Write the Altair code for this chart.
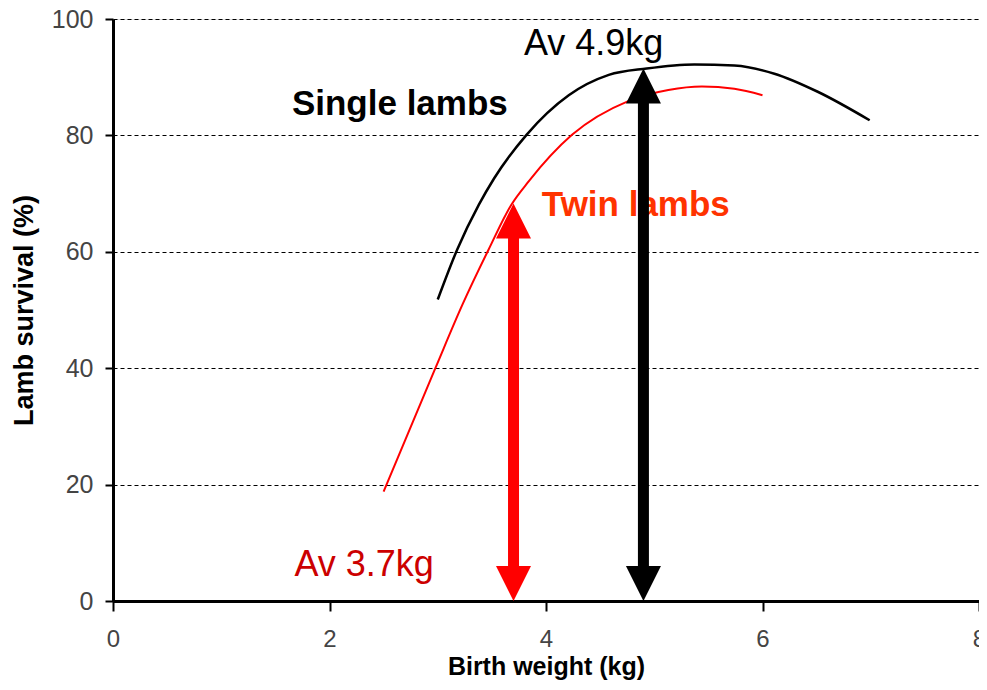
import altair as alt
import pandas as pd

# Single lambs curve (black)
single_kg = [3.0, 3.18, 3.38, 3.52, 3.82, 4.21, 4.58, 4.93, 5.37, 5.74, 6.11, 6.51, 6.99]
single_v = [51.8, 60.4, 68.1, 72.6, 80.1, 86.9, 90.4, 91.5, 92.2, 92.0, 90.6, 87.5, 82.6]

# Twin lambs curve (red)
twin_kg = [2.5, 2.98, 3.23, 3.47, 3.68, 3.84, 4.24, 4.76, 5.13, 5.44, 5.74, 6.0]
twin_v = [18.8, 40.1, 51.0, 60.4, 68.1, 72.1, 80.1, 85.9, 87.8, 88.4, 88.0, 86.9]

# Average birth weight arrows
arrow_kg = [3.7, 4.9]
arrow_top = [68.3, 91.5]
arrow_bottom = [0, 0]
arrow_color = ["#ff0000", "#000000"]

# Annotations
ann_text = ["Av 4.9kg", "Av 3.7kg"]
ann_kg = [4.44, 2.32]
ann_v = [95.7, 6.2]
ann_color = ["#000000", "#cc0000"]

lbl_text = ["Single lambs", "Twin lambs"]
lbl_kg = [2.65, 4.83]
lbl_v = [85.4, 68.0]
lbl_color = ["#000000", "#ff3300"]

single = pd.DataFrame({"kg": single_kg, "v": single_v})
twin = pd.DataFrame({"kg": twin_kg, "v": twin_v})
arrows = pd.DataFrame({"kg": arrow_kg, "top": arrow_top, "bottom": arrow_bottom, "color": arrow_color})
ann = pd.DataFrame({"text": ann_text, "kg": ann_kg, "v": ann_v, "color": ann_color})
lbl = pd.DataFrame({"text": lbl_text, "kg": lbl_kg, "v": lbl_v, "color": lbl_color})

FONT = "Liberation Sans"

xs = alt.Scale(domain=[0, 8], nice=False)
ys = alt.Scale(domain=[0, 100], nice=False)

x_axis = alt.Axis(
    values=[0, 2, 4, 6, 8], format="d", grid=False, title="Birth weight (kg)",
    titleFont=FONT, titleFontSize=25, titleFontWeight="bold", titleColor="#000",
    titlePadding=3,
    labelFont=FONT, labelFontSize=24, labelColor="#444", labelPadding=16,
    domainColor="#000", domainWidth=3, tickColor="#000", tickWidth=2, tickSize=10,
    labelFlush=False,
)
y_axis = alt.Axis(
    values=[0, 20, 40, 60, 80, 100], format="d", grid=True, gridColor="#000", gridDash=[4, 3],
    gridWidth=1, title="Lamb survival (%)",
    titleFont=FONT, titleFontSize=27, titleFontWeight="bold", titleColor="#000",
    titlePadding=13,
    labelFont=FONT, labelFontSize=25, labelColor="#444", labelPadding=12,
    domainColor="#000", domainWidth=3, tickColor="#000", tickWidth=2, tickSize=8,
)

base_single = alt.Chart(single).mark_line(color="#000000", strokeWidth=2.5, interpolate="monotone").encode(
    x=alt.X("kg:Q", scale=xs, axis=x_axis),
    y=alt.Y("v:Q", scale=ys, axis=y_axis),
)
line_twin = alt.Chart(twin).mark_line(color="#ff0000", strokeWidth=2, interpolate="monotone").encode(
    x=alt.X("kg:Q", scale=xs),
    y=alt.Y("v:Q", scale=ys),
)

ann_layer = alt.Chart(ann).mark_text(font=FONT, fontSize=36, baseline="middle", align="center").encode(
    x=alt.X("kg:Q", scale=xs), y=alt.Y("v:Q", scale=ys), text="text:N",
    color=alt.Color("color:N", scale=None),
)
lbl_layer = alt.Chart(lbl).mark_text(font=FONT, fontSize=35, fontWeight="bold", baseline="middle", align="center").encode(
    x=alt.X("kg:Q", scale=xs), y=alt.Y("v:Q", scale=ys), text="text:N",
    color=alt.Color("color:N", scale=None),
)

shaft = alt.Chart(arrows).mark_rule(strokeWidth=11, yOffset=30, y2Offset=-30).encode(
    x=alt.X("kg:Q", scale=xs), y=alt.Y("top:Q", scale=ys), y2="bottom:Q",
    color=alt.Color("color:N", scale=None),
)
head_up = alt.Chart(arrows).mark_point(shape="M0,0L-1,2L1,2Z", size=1225, filled=True, opacity=1, strokeWidth=0).encode(
    x=alt.X("kg:Q", scale=xs), y=alt.Y("top:Q", scale=ys),
    color=alt.Color("color:N", scale=None),
)
head_down = alt.Chart(arrows).mark_point(shape="M0,0L-1,-2L1,-2Z", size=1225, filled=True, opacity=1, strokeWidth=0).encode(
    x=alt.X("kg:Q", scale=xs), y=alt.Y("bottom:Q", scale=ys),
    color=alt.Color("color:N", scale=None),
)

chart = alt.layer(base_single, line_twin, ann_layer, lbl_layer, shaft, head_up, head_down).properties(
    width=866, height=582,
    autosize=alt.AutoSizeParams(type="none"),
    padding={"left": 105, "top": 11, "right": 0, "bottom": 81},
).configure_view(stroke=None).configure(background="white")

chart.save("out.html", embed_options={"renderer": "svg", "actions": False})
